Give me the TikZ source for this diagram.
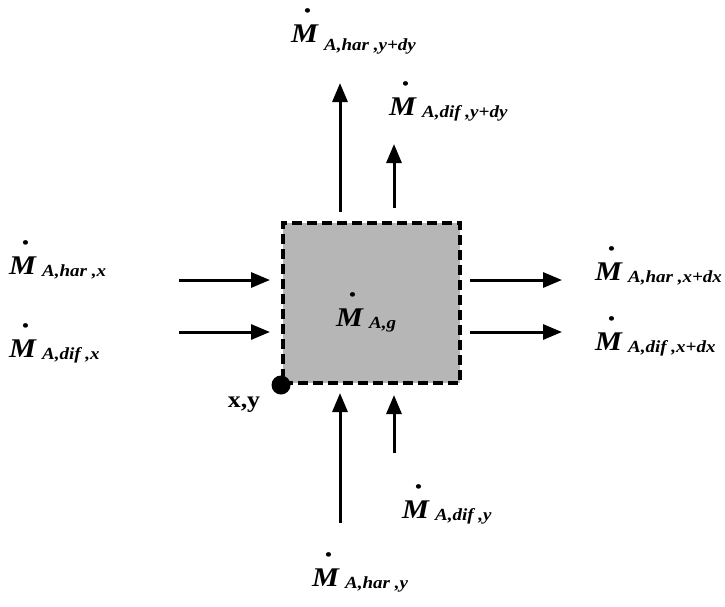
\documentclass[tikz,border=0pt]{standalone}
\usepackage{fontspec}
\usepackage{xcolor}
\usepackage{tikz}
\usetikzlibrary{calc,positioning,arrows.meta}
\newfontfamily\labfont[FakeStretch=1.12,
  BoldFont={Liberation Serif Bold},
  BoldItalicFont={Liberation Serif Bold Italic}]{Liberation Serif}
\definecolor{celdaBg}{RGB}{182,182,182}
% mass flow: M with a dot, then its subscript
\newcommand{\flux}[2][2pt]{%
  \rlap{\hspace{13pt}\raisebox{26pt}{\fontsize{17}{17}\selectfont\textbullet}}%
  {\fontsize{27}{27}\selectfont M}\hspace{6pt}%
  \raisebox{-#1}{\fontsize{17}{17}\selectfont #2}}
\tikzset{
  flow/.style={-{Triangle[length=19pt,width=15pt]}, line width=3pt},
  lbl/.style={anchor=base west, inner sep=0pt, font=\labfont\bfseries\itshape},
  celda/.style={draw, dash pattern=on 10pt off 5pt, line width=4pt,
    fill=celdaBg, minimum width=177pt, minimum height=160pt, inner sep=0pt}
}
\begin{document}
\begin{tikzpicture}[x=1pt,y=-1pt]
  \useasboundingbox (0,0) rectangle (725,606);
  % control volume
  \node[celda] (cv) at (371.5,303) {};
  \node[circle, fill, minimum size=19pt, inner sep=0pt] (org) at (cv.south west) {};
  \node[font=\labfont\bfseries\fontsize{23}{23}\selectfont] (xy) at (244,405) {x,y};
  % arrow ends
  \coordinate (thA) at (340,212); \coordinate (thB) at (340,83);
  \coordinate (tdA) at (394,208); \coordinate (tdB) at (394,144);
  \coordinate (bhA) at (340,523); \coordinate (bhB) at (340,393);
  \coordinate (bdA) at (394,453); \coordinate (bdB) at (394,395);
  \coordinate (lhA) at (179,280); \coordinate (lhB) at (270,280);
  \coordinate (ldA) at (179,332); \coordinate (ldB) at (270,332);
  \coordinate (rhA) at (470,280); \coordinate (rhB) at (562,280);
  \coordinate (rdA) at (470,332); \coordinate (rdB) at (562,332);
  \draw[flow] (thA) -- (thB);
  \draw[flow] (tdA) -- (tdB);
  \draw[flow] (bhA) -- (bhB);
  \draw[flow] (bdA) -- (bdB);
  \draw[flow] (lhA) -- (lhB);
  \draw[flow] (ldA) -- (ldB);
  \draw[flow] (rhA) -- (rhB);
  \draw[flow] (rdA) -- (rdB);
  % flow labels
  \node[lbl] (mhyd) at (291,42) {\flux[8pt]{A,har ,y+dy}};
  \node[lbl] (mdyd) at (389,115) {\flux{A,dif ,y+dy}};
  \node[lbl] (mhx) at (9,274) {\flux{A,har ,x}};
  \node[lbl] (mdx) at (9,357) {\flux{A,dif ,x}};
  \node[lbl] (mhxd) at (595,280) {\flux{A,har ,x+dx}};
  \node[lbl] (mdxd) at (595,350) {\flux{A,dif ,x+dx}};
  \node[lbl] (mdy) at (402,518) {\flux{A,dif ,y}};
  \node[lbl] (mhy) at (312,586) {\flux{A,har ,y}};
  \node[lbl] (mg) at (336,326) {\flux{A,g}};
\end{tikzpicture}
\end{document}
